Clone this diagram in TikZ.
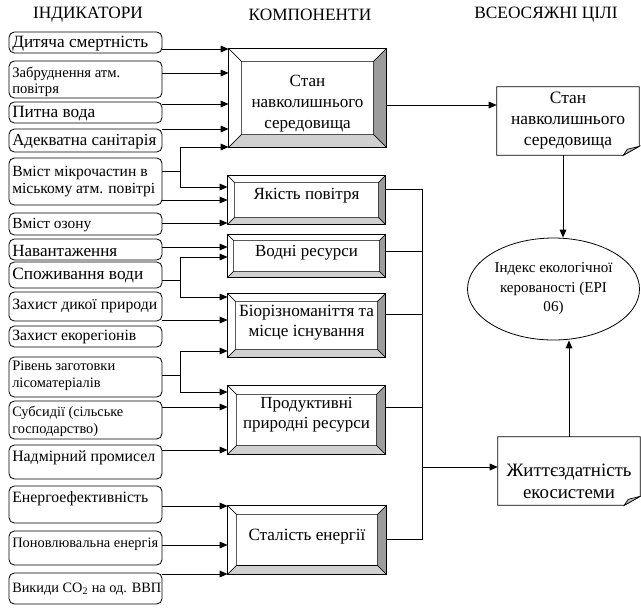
\documentclass[tikz,border=0pt]{standalone}
\usepackage{fontspec}
\setmainfont{Liberation Serif}
\usetikzlibrary{arrows.meta,calc,shapes.geometric}

% set a font size so that the sample text is #1 px wide; #3 = baselineskip in px
\newlength\fitlen
\newcommand\fitfont[3]{%
  \settowidth\fitlen{\fontsize{10pt}{12pt}\selectfont #2}%
  \pgfmathsetmacro\fitsz{7.5*#1/\fitlen}%
  \pgfmathsetmacro\fitbs{0.75*#3}%
  \fontsize{\fitsz pt}{\fitbs pt}\selectfont}

\definecolor{bevR}{HTML}{9C9C9C}
\definecolor{bevB}{HTML}{D0D0D0}
\definecolor{foldg}{HTML}{C0C0C0}

\tikzset{
 sz/.style 2 args={minimum width=#1*0.75pt, minimum height=#2*0.75pt},
 fitf/.style n args={3}{font={\fitfont{#1}{#2}{#3}}},
 ind/.style={draw, rounded corners=4pt, inner sep=0pt, line width=0.6pt},
 itxt/.style={anchor=west, inner sep=0pt, align=left},
 comp/.style={draw, inner sep=0pt, line width=0.6pt},
 ctxt/.style={inner sep=0pt, align=center},
 goal/.style={inner sep=0pt},
 arr/.style={line width=0.75pt, -{Triangle[length=6pt,width=5pt]}},
 ln/.style={line width=0.75pt},
 head/.style={inner sep=0pt, fitf={110}{ІНДИКАТОРИ}{20}},
 bev/.style={line width=0.5pt},
}

\newcommand\bevel[2]{%
 \coordinate (#1-a) at ($(#1.north west)+(#2,#2)$);
 \coordinate (#1-b) at ($(#1.north east)+(-#2,#2)$);
 \coordinate (#1-c) at ($(#1.south east)+(-#2,-#2)$);
 \coordinate (#1-d) at ($(#1.south west)+(#2,-#2)$);
 \filldraw[bev, fill=white] (#1.north west) -- (#1.north east) -- (#1-b) -- (#1-a) -- cycle;
 \filldraw[bev, fill=white] (#1.north west) -- (#1-a) -- (#1-d) -- (#1.south west) -- cycle;
 \filldraw[bev, fill=bevR] (#1.north east) -- (#1.south east) -- (#1-c) -- (#1-b) -- cycle;
 \filldraw[bev, fill=bevB] (#1.south west) -- (#1-d) -- (#1-c) -- (#1.south east) -- cycle;
 \draw[line width=0.6pt] (#1.north west) rectangle (#1.south east);
}

\newcommand\notebox[1]{%
 \draw[line width=0.6pt] (#1.north west) -- (#1.north east) -- ($(#1.south east)+(0,-9)$) -- ($(#1.south east)+(-16,0)$) -- (#1.south west) -- cycle;
 \filldraw[bev, fill=foldg] ($(#1.south east)+(-16,0)$) -- ($(#1.south east)+(0,-9)$) -- ($(#1.south east)+(-12,-6)$) -- cycle;
}

\begin{document}
\begin{tikzpicture}[x=0.75pt, y=-0.75pt]
\useasboundingbox (0,0) rectangle (641,608);

% headings
\node[head] (h1) at (88,15) {ІНДИКАТОРИ};
\node[head] (h2) at (310,15) {КОМПОНЕНТИ};
\node[head] (h3) at (546,15) {ВСЕОСЯЖНІ ЦІЛІ};

% indicator boxes
\node[ind, sz={153}{21}] (i1) at (85.5,42.5) {};
\node[ind, sz={153}{37}] (i2) at (85.5,79.5) {};
\node[ind, sz={153}{21}] (i3) at (85.5,112.5) {};
\node[ind, sz={153}{23}] (i4) at (85.5,140.5) {};
\node[ind, sz={153}{47}] (i5) at (85.5,181.5) {};
\node[ind, sz={153}{22}] (i6) at (85.5,224) {};
\node[ind, sz={153}{21}] (i7) at (85.5,249.5) {};
\node[ind, sz={153}{26}] (i8) at (85.5,275) {};
\node[ind, sz={153}{29}] (i9) at (85.5,306.5) {};
\node[ind, sz={153}{21}] (i10) at (85.5,336.5) {};
\node[ind, sz={153}{40}] (i11) at (85.5,377) {};
\node[ind, sz={153}{38}] (i12) at (85.5,420) {};
\node[ind, sz={153}{34}] (i13) at (85.5,462) {};
\node[ind, sz={153}{37}] (i14) at (85.5,504.5) {};
\node[ind, sz={153}{34}] (i15) at (85.5,548) {};
\node[ind, sz={153}{31}] (i16) at (85.5,588.5) {};

\node[itxt, fitf={136}{Дитяча смертність}{17}] (t1) at (12,44) {Дитяча смертність};
\node[itxt, fitf={108}{Забруднення атм.}{16}] (t2) at (12,81.5) {Забруднення атм.\\повітря};
\node[itxt, fitf={83}{Питна вода}{17}] (t3) at (12,114) {Питна вода};
\node[itxt, fitf={144}{Адекватна санітарія}{17}] (t4) at (12,142) {Адекватна санітарія};
\node[itxt, fitf={143}{міському атм. повітрі}{17}] (t5) at (12,181.5) {Вміст мікрочастин в\\міському атм. повітрі};
\node[itxt, fitf={79}{Вміст озону}{17}] (t6) at (12,225) {Вміст озону};
\node[itxt, fitf={105}{Навантаження}{17}] (t7) at (12,251) {Навантаження};
\node[itxt, fitf={131}{Споживання води}{17}] (t8) at (12,275.5) {Споживання води};
\node[itxt, fitf={145}{Захист дикої природи}{17}] (t9) at (12,306) {Захист дикої природи};
\node[itxt, fitf={124}{Захист екорегіонів}{17}] (t10) at (12,337) {Захист екорегіонів};
\node[itxt, fitf={103}{Рівень заготовки}{17}] (t11) at (12,375.5) {Рівень заготовки\\лісоматеріалів};
\node[itxt, fitf={111}{Субсидії (сільське}{17}] (t12) at (12,421.5) {Субсидії (сільське\\господарство)};
\node[itxt, fitf={143}{Надмірний промисел}{17}] (t13) at (12,458) {Надмірний промисел};
\node[itxt, fitf={136}{Енергоефективність}{17}] (t14) at (12,499) {Енергоефективність};
\node[itxt, fitf={146}{Поновлювальна енергія}{17}] (t15) at (12,544) {Поновлювальна енергія};
\node[itxt, fitf={149}{Викиди CO\textsubscript{2} на од. ВВП}{17}] (t16) at (12,589) {Викиди CO\textsubscript{2} на од. ВВП};

% components
\node[comp, sz={157}{98}] (c1) at (307.5,98) {};
\node[comp, sz={157}{48}] (c2) at (306.5,200) {};
\node[comp, sz={157}{42}] (c3) at (306.5,256) {};
\node[comp, sz={157}{63}] (c4) at (306.5,325.5) {};
\node[comp, sz={157}{68}] (c5) at (306.5,420) {};
\node[comp, sz={158}{68}] (c6) at (307,540) {};
\bevel{c1}{13}
\bevel{c2}{7}
\bevel{c3}{6}
\bevel{c4}{8}
\bevel{c5}{9}
\bevel{c6}{9}
\node[ctxt, fitf={112}{навколишнього}{21}] (ct1) at (307.5,104) {Стан\\навколишнього\\середовища};
\node[ctxt, fitf={106}{Якість повітря}{20}] (ct2) at (306.5,196) {Якість повітря};
\node[ctxt, fitf={103}{Водні ресурси}{20}] (ct3) at (306.5,253) {Водні ресурси};
\node[ctxt, fitf={135}{Біорізноманіття та}{20}] (ct4) at (306.5,323) {Біорізноманіття та\\місце існування};
\node[ctxt, fitf={127}{природні ресурси}{20}] (ct5) at (306.5,415) {Продуктивні\\природні ресурси};
\node[ctxt, fitf={117}{Сталість енергії}{20}] (ct6) at (307,537) {Сталість енергії};

% goals
\node[goal, sz={142}{68}] (g1) at (568,121) {};
\node[goal, sz={142}{68}] (g2) at (569,471) {};
\notebox{g1}
\notebox{g2}
\node[ctxt, fitf={114}{навколишнього}{21}] (gt1) at (568,121) {Стан\\навколишнього\\середовища};
\node[ctxt, fitf={125}{Життєздатність}{22}] (gt2) at (569,481) {Життєздатність\\екосистеми};
\node[draw, ellipse, sz={172}{102}, inner sep=0pt, line width=0.6pt, align=center, fitf={118}{Індекс екологічної}{19.5}] (e) at (553.5,289) {Індекс екологічної\\керованості (EPI\\06)};

% indicator -> component connectors
\draw[arr] (i1.east |- 0,49) -- (c1.west |- 0,49);
\draw[arr] (i2.east |- 0,73) -- (c1.west |- 0,73);
\draw[arr] (i3.east |- 0,104) -- (c1.west |- 0,104);
\draw[arr] (i4.east |- 0,129) -- (c1.west |- 0,129);
\coordinate (j1) at (180,171);
\draw[ln] (i5.east |- j1) -- (j1);
\draw[arr] (j1) |- (c1.west |- 0,147);
\draw[arr] (j1) |- (c2.west |- 0,187);
\draw[arr] (i5.east |- 0,200) -- (c2.west |- 0,200);
\draw[arr] (i6.east |- 0,223) -- (c2.west |- 0,223);
\draw[arr] (i7.east |- 0,247) -- (c3.west |- 0,247);
\coordinate (j2) at (180,280);
\draw[ln] (i8.east |- j2) -- (j2);
\draw[arr] (j2) |- (c3.west |- 0,257);
\draw[arr] (j2) |- (c4.west |- 0,297);
\draw[arr] (i9.east |- 0,320) -- (c4.west |- 0,320);
\coordinate (j3) at (180,375);
\draw[ln] (i11.east |- j3) -- (j3);
\draw[arr] (j3) |- (c4.west |- 0,351);
\draw[arr] (j3) |- (c5.west |- 0,392);
\draw[arr] (i12.east |- 0,407) -- (c5.west |- 0,407);
\draw[arr] (i13.east |- 0,450) -- (c5.west |- 0,450);
\draw[arr] (i14.east |- 0,506) -- (c6.west |- 0,506);
\draw[arr] (i15.east |- 0,545) -- (c6.west |- 0,545);
\draw[arr] (i16.east |- 0,574) -- (c6.west |- 0,574);

% bus
\coordinate (bt) at (422,189);
\coordinate (bb) at (422,539);
\draw[ln] (c2.east |- bt) -- (bt) -- (bb) -- (c6.east |- bb);
\draw[ln] (c3.east |- 0,251) -- (bt |- 0,251);
\draw[ln] (c4.east |- 0,314) -- (bt |- 0,314);
\draw[ln] (c5.east |- 0,407) -- (bt |- 0,407);
\draw[arr] (bt |- 0,467) -- (g2.west |- 0,467);

% component -> goal
\draw[arr] (c1.east |- 0,105) -- (g1.west |- 0,105);
\coordinate (ax) at (563,0);
\draw[arr] (g1.south -| ax) -- (e.north -| ax);
\draw[arr] (g2.north) -- (e.south -| g2.north);
\end{tikzpicture}
\end{document}
